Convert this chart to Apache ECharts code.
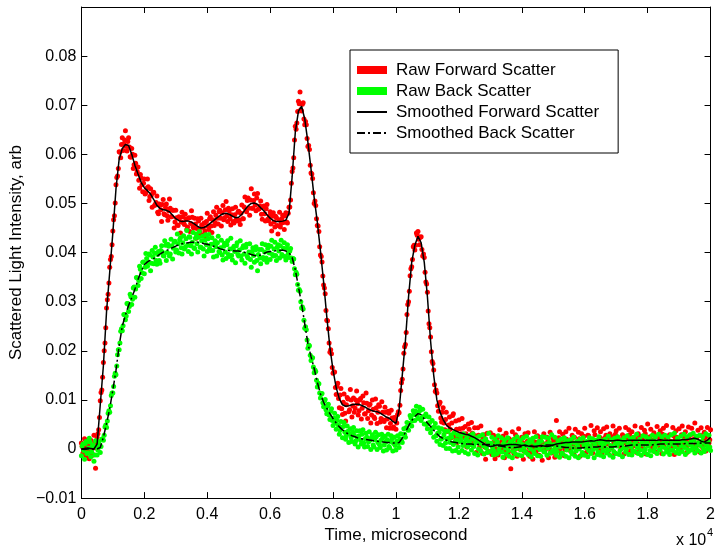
<!DOCTYPE html>
<html><head><meta charset="utf-8">
<script src="https://cdn.jsdelivr.net/npm/echarts@6/dist/echarts.min.js"></script>
<style>html,body{margin:0;padding:0;background:#fff}#c{width:718px;height:549px}</style>
</head><body><div id="c"></div>
<script>
// raw samples are interleaved: set A at 0,50,100,... us and set B at 25,75,125,... us
const RAW_STEP_US = 50;
const RAW_B_OFFSET_US = 25;
const SMOOTH_STEP_US = 100;

const seriesNames = ['Raw Forward Scatter','Raw Back Scatter','Smoothed Forward Scatter','Smoothed Back Scatter'];
const xTickLabels = ['0','0.2','0.4','0.6','0.8','1','1.2','1.4','1.6','1.8','2'];
const yTickLabels = ['\u22120.01','0','0.01','0.02','0.03','0.04','0.05','0.06','0.07','0.08',''];

const rawForwardA = [
0.0012,-0.0008,0.0021,-0.0014,0.0007,-0.0020,0.0018,-0.0010,0.0028,-0.0039,
0.0024,0.0039,0.0098,0.0120,0.0176,0.0216,0.0287,0.0315,0.0370,0.0392,
0.0444,0.0475,0.0538,0.0556,0.0605,0.0593,0.0634,0.0621,0.0648,0.0607,
0.0634,0.0595,0.0612,0.0571,0.0598,0.0560,0.0574,0.0531,0.0552,0.0524,
0.0550,0.0522,0.0550,0.0506,0.0530,0.0492,0.0523,0.0498,0.0515,0.0479,
0.0497,0.0463,0.0508,0.0477,0.0499,0.0466,0.0509,0.0473,0.0486,0.0450,
0.0486,0.0456,0.0473,0.0440,0.0482,0.0460,0.0478,0.0447,0.0470,0.0443,
0.0485,0.0452,0.0470,0.0429,0.0469,0.0446,0.0470,0.0435,0.0460,0.0434,
0.0480,0.0447,0.0473,0.0441,0.0483,0.0461,0.0492,0.0458,0.0486,0.0454,
0.0496,0.0471,0.0504,0.0463,0.0485,0.0456,0.0489,0.0460,0.0492,0.0464,
0.0484,0.0457,0.0497,0.0469,0.0513,0.0483,0.0511,0.0476,0.0530,0.0490,
0.0519,0.0485,0.0520,0.0489,0.0505,0.0468,0.0495,0.0464,0.0498,0.0465,
0.0483,0.0444,0.0481,0.0452,0.0471,0.0438,0.0482,0.0459,0.0476,0.0447,
0.0481,0.0460,0.0492,0.0507,0.0565,0.0593,0.0657,0.0664,0.0708,0.0727,
0.0688,0.0705,0.0660,0.0660,0.0616,0.0610,0.0562,0.0551,0.0500,0.0496,
0.0455,0.0443,0.0395,0.0381,0.0334,0.0316,0.0262,0.0245,0.0197,0.0194,
0.0154,0.0157,0.0111,0.0134,0.0084,0.0123,0.0070,0.0112,0.0057,0.0105,
0.0076,0.0121,0.0065,0.0104,0.0083,0.0118,0.0069,0.0100,0.0061,0.0108,
0.0071,0.0114,0.0062,0.0089,0.0053,0.0100,0.0065,0.0102,0.0052,0.0090,
0.0055,0.0096,0.0059,0.0085,0.0043,0.0077,0.0042,0.0079,0.0042,0.0064,
0.0040,0.0070,0.0074,0.0119,0.0142,0.0195,0.0213,0.0274,0.0300,0.0353,
0.0371,0.0412,0.0405,0.0440,0.0443,0.0416,0.0432,0.0393,0.0390,0.0340,
0.0319,0.0255,0.0228,0.0178,0.0161,0.0117,0.0114,0.0077,0.0095,0.0055,
0.0084,0.0039,0.0075,0.0036,0.0065,0.0023,0.0068,0.0024,0.0057,0.0013,
0.0059,0.0021,0.0062,0.0011,0.0046,0.0004,0.0051,0.0018,0.0054,0.0007,
0.0043,-0.0007,0.0043,0.0002,0.0047,-0.0009,0.0029,-0.0021,0.0032,-0.0006,
0.0033,-0.0011,0.0028,-0.0020,0.0022,-0.0012,0.0039,-0.0001,0.0026,-0.0018,
0.0032,-0.0006,0.0021,-0.0040,0.0035,-0.0009,0.0029,-0.0015,0.0041,0.0000,
0.0024,-0.0021,0.0031,-0.0006,0.0033,-0.0015,0.0016,-0.0021,0.0035,-0.0005,
0.0027,-0.0013,0.0023,-0.0023,0.0031,-0.0001,0.0024,-0.0018,0.0034,-0.0008,
0.0021,-0.0017,0.0058,-0.0002,0.0035,-0.0008,0.0030,-0.0014,0.0035,0.0004,
0.0042,-0.0004,0.0028,-0.0010,0.0040,0.0001,0.0034,-0.0015,0.0031,0.0007,
0.0042,-0.0007,0.0028,-0.0001,0.0048,-0.0008,0.0037,0.0006,0.0043,-0.0002,
0.0035,-0.0010,0.0041,0.0012,0.0045,-0.0004,0.0031,0.0002,0.0047,-0.0009,
0.0037,0.0009,0.0042,0.0000,0.0029,-0.0010,0.0044,0.0005,0.0039,-0.0004,
0.0035,0.0010,0.0047,-0.0007,0.0031,-0.0001,0.0044,0.0004,0.0038,-0.0010,
0.0051,0.0011,0.0040,-0.0002,0.0033,-0.0006,0.0046,0.0007,0.0037,-0.0009,
0.0042,0.0013,0.0048,-0.0003,0.0029,0.0002,0.0044,-0.0011,0.0037,0.0008,
0.0041,-0.0001,0.0047,0.0006,0.0035,-0.0007,0.0045,0.0012,0.0042,-0.0001,
0.0053,0.0006,0.0038,-0.0006,0.0043,0.0003,0.0034,-0.0004,0.0044,0.0012,
0.0039
];

const rawForwardB = [
0.0005,-0.0010,0.0004,0.0016,-0.0002,0.0011,-0.0014,0.0002,0.0012,0.0002,
0.0031,0.0064,0.0115,0.0146,0.0200,0.0247,0.0304,0.0338,0.0386,0.0416,
0.0467,0.0501,0.0553,0.0571,0.0604,0.0620,0.0608,0.0629,0.0616,0.0626,
0.0615,0.0594,0.0600,0.0579,0.0582,0.0565,0.0547,0.0559,0.0538,0.0541,
0.0519,0.0531,0.0534,0.0514,0.0517,0.0522,0.0496,0.0502,0.0482,0.0499,
0.0487,0.0498,0.0479,0.0491,0.0475,0.0485,0.0490,0.0473,0.0486,0.0462,
0.0471,0.0455,0.0471,0.0462,0.0473,0.0457,0.0468,0.0452,0.0471,0.0459,
0.0472,0.0450,0.0458,0.0449,0.0464,0.0440,0.0456,0.0451,0.0444,0.0463,
0.0454,0.0469,0.0454,0.0467,0.0455,0.0476,0.0470,0.0483,0.0470,0.0481,
0.0467,0.0487,0.0475,0.0490,0.0469,0.0477,0.0463,0.0477,0.0468,0.0482,
0.0466,0.0480,0.0469,0.0493,0.0487,0.0506,0.0490,0.0507,0.0490,0.0506,
0.0497,0.0511,0.0488,0.0495,0.0478,0.0493,0.0479,0.0489,0.0468,0.0475,
0.0458,0.0474,0.0462,0.0474,0.0455,0.0467,0.0452,0.0469,0.0461,0.0475,
0.0462,0.0480,0.0493,0.0541,0.0572,0.0629,0.0651,0.0687,0.0703,0.0691,
0.0702,0.0672,0.0667,0.0632,0.0618,0.0578,0.0560,0.0522,0.0505,0.0469,
0.0454,0.0412,0.0392,0.0352,0.0328,0.0282,0.0261,0.0216,0.0202,0.0166,
0.0157,0.0125,0.0128,0.0103,0.0110,0.0082,0.0095,0.0073,0.0090,0.0102,
0.0080,0.0100,0.0088,0.0075,0.0100,0.0092,0.0078,0.0103,0.0083,0.0094,
0.0072,0.0093,0.0078,0.0091,0.0069,0.0081,0.0062,0.0084,0.0075,0.0087,
0.0062,0.0075,0.0056,0.0075,0.0061,0.0073,0.0052,0.0063,0.0045,0.0060,
0.0053,0.0076,0.0089,0.0135,0.0163,0.0208,0.0237,0.0294,0.0321,0.0367,
0.0386,0.0415,0.0415,0.0435,0.0427,0.0431,0.0406,0.0397,0.0360,0.0336,
0.0281,0.0247,0.0198,0.0174,0.0131,0.0120,0.0088,0.0091,0.0063,0.0075,
0.0053,0.0060,0.0036,0.0049,0.0040,0.0053,0.0072,0.0028,0.0040,0.0022,
0.0041,0.0031,0.0042,0.0023,0.0031,0.0019,0.0040,0.0023,0.0032,0.0012,
0.0027,0.0017,0.0028,0.0007,0.0017,0.0024,0.0004,0.0016,-0.0005,0.0011,
0.0009,-0.0002,0.0015,0.0001,-0.0005,0.0012,0.0004,0.0018,-0.0003,0.0008,
0.0014,-0.0006,0.0005,0.0017,0.0002,-0.0001,0.0011,0.0019,0.0000,0.0006,
0.0013,-0.0004,0.0009,0.0016,0.0003,-0.0007,0.0010,0.0001,0.0014,-0.0002,
0.0007,0.0017,0.0000,0.0011,-0.0005,0.0006,0.0015,0.0002,-0.0003,0.0012,
0.0018,0.0004,0.0010,0.0023,0.0001,0.0016,0.0008,-0.0001,0.0020,0.0012,
0.0003,0.0019,0.0009,0.0024,0.0002,0.0014,0.0021,0.0006,0.0017,0.0026,
0.0008,0.0013,0.0027,0.0005,0.0020,0.0011,0.0029,0.0015,0.0007,0.0024,
0.0018,0.0003,0.0022,0.0028,0.0010,0.0019,0.0006,0.0025,0.0014,0.0030,
0.0009,0.0021,0.0017,0.0004,0.0026,0.0012,0.0023,0.0008,0.0029,0.0016,
0.0005,0.0024,0.0019,0.0011,0.0027,0.0007,0.0022,0.0015,0.0031,0.0010,
0.0020,0.0025,0.0006,0.0018,0.0028,0.0013,0.0009,0.0023,0.0017,0.0030,
0.0004,0.0021,0.0026,0.0012,0.0016,0.0008,0.0027,0.0019,0.0024,0.0005,
0.0014,0.0029,0.0011,0.0022,0.0018,0.0007,0.0026,0.0015,0.0030,0.0020,
0.0009,0.0025,0.0013,0.0028,0.0006,0.0017,0.0023,0.0012,0.0027,0.0019
];

const rawBackA = [
-0.0014,0.0010,-0.0021,0.0015,-0.0008,0.0022,-0.0016,0.0006,-0.0025,0.0017,
-0.0012,0.0015,-0.0007,0.0020,0.0018,0.0045,0.0044,0.0073,0.0075,0.0109,
0.0114,0.0148,0.0151,0.0192,0.0202,0.0240,0.0241,0.0274,0.0263,0.0296,
0.0280,0.0315,0.0294,0.0328,0.0309,0.0349,0.0333,0.0372,0.0347,0.0380,
0.0357,0.0398,0.0372,0.0397,0.0363,0.0404,0.0377,0.0411,0.0376,0.0402,
0.0378,0.0414,0.0394,0.0424,0.0384,0.0417,0.0393,0.0427,0.0387,0.0421,
0.0401,0.0438,0.0399,0.0430,0.0397,0.0434,0.0411,0.0445,0.0402,0.0431,
0.0397,0.0441,0.0408,0.0438,0.0401,0.0443,0.0411,0.0433,0.0393,0.0436,
0.0402,0.0437,0.0404,0.0430,0.0391,0.0424,0.0393,0.0433,0.0400,0.0425,
0.0385,0.0419,0.0388,0.0424,0.0392,0.0429,0.0385,0.0413,0.0379,0.0420,
0.0393,0.0424,0.0385,0.0414,0.0378,0.0417,0.0389,0.0418,0.0370,0.0410,
0.0380,0.0412,0.0363,0.0406,0.0377,0.0418,0.0386,0.0416,0.0380,0.0415,
0.0386,0.0425,0.0393,0.0421,0.0384,0.0416,0.0389,0.0425,0.0393,0.0420,
0.0385,0.0416,0.0390,0.0408,0.0382,0.0387,0.0355,0.0356,0.0323,0.0321,
0.0287,0.0285,0.0246,0.0243,0.0205,0.0210,0.0180,0.0186,0.0155,0.0158,
0.0126,0.0133,0.0104,0.0113,0.0086,0.0101,0.0072,0.0091,0.0060,0.0082,
0.0048,0.0073,0.0040,0.0066,0.0030,0.0056,0.0023,0.0054,0.0020,0.0047,
0.0013,0.0041,0.0015,0.0044,0.0010,0.0037,0.0004,0.0037,0.0010,0.0039,
0.0004,0.0032,0.0005,0.0035,-0.0001,0.0029,0.0004,0.0034,-0.0001,0.0029,
0.0003,0.0030,-0.0004,0.0026,-0.0002,0.0030,0.0002,0.0027,-0.0004,0.0024,
-0.0002,0.0027,0.0003,0.0031,0.0013,0.0041,0.0024,0.0054,0.0038,0.0068,
0.0047,0.0078,0.0058,0.0087,0.0062,0.0085,0.0058,0.0081,0.0051,0.0071,
0.0041,0.0065,0.0033,0.0058,0.0024,0.0052,0.0016,0.0043,0.0009,0.0041,
0.0007,0.0036,0.0001,0.0036,0.0001,0.0029,-0.0004,0.0033,-0.0003,0.0029,
-0.0007,0.0026,-0.0003,0.0031,-0.0007,0.0023,-0.0010,0.0028,-0.0002,0.0031,
-0.0009,0.0023,-0.0012,0.0026,-0.0004,0.0029,-0.0010,0.0021,-0.0007,0.0032,
-0.0005,0.0024,-0.0012,0.0020,-0.0010,0.0027,-0.0006,0.0023,-0.0017,0.0019,
-0.0010,0.0023,-0.0015,0.0015,-0.0018,0.0020,-0.0010,0.0025,-0.0012,0.0018,
-0.0014,0.0023,-0.0005,0.0026,-0.0011,0.0019,-0.0016,0.0022,-0.0009,0.0025,
-0.0014,0.0016,-0.0015,0.0025,-0.0005,0.0024,-0.0013,0.0022,-0.0008,0.0029,
-0.0006,0.0024,-0.0013,0.0017,-0.0017,0.0020,-0.0010,0.0023,-0.0015,0.0017,
-0.0018,0.0019,-0.0010,0.0024,-0.0015,0.0015,-0.0018,0.0020,-0.0012,0.0023,
-0.0013,0.0015,-0.0016,0.0023,-0.0009,0.0021,-0.0018,0.0018,-0.0011,0.0025,
-0.0013,0.0017,-0.0016,0.0020,-0.0008,0.0026,-0.0013,0.0019,-0.0017,0.0022,
-0.0009,0.0025,-0.0011,0.0018,-0.0016,0.0023,-0.0006,0.0027,-0.0011,0.0021,
-0.0012,0.0024,-0.0005,0.0030,-0.0009,0.0020,-0.0013,0.0027,-0.0007,0.0025,
-0.0011,0.0021,-0.0014,0.0028,-0.0005,0.0025,-0.0009,0.0030,-0.0002,0.0025,
-0.0010,0.0028,-0.0006,0.0024,-0.0011,0.0029,-0.0003,0.0032,-0.0007,0.0022,
-0.0009,0.0026,-0.0005,0.0030,-0.0011,0.0025,-0.0005,0.0029,-0.0002,0.0032,
-0.0008,0.0026,-0.0003,0.0028,-0.0008,0.0025,-0.0005,0.0031,0.0000,0.0028,
-0.0003
];

const rawBackB = [
0.0006,-0.0003,0.0011,-0.0009,0.0002,0.0014,-0.0006,0.0008,-0.0012,0.0004,
-0.0002,0.0009,0.0005,0.0021,0.0028,0.0049,0.0057,0.0078,0.0088,0.0114,
0.0127,0.0154,0.0169,0.0202,0.0216,0.0245,0.0251,0.0274,0.0271,0.0296,
0.0290,0.0310,0.0305,0.0330,0.0326,0.0348,0.0343,0.0366,0.0359,0.0381,
0.0370,0.0388,0.0380,0.0395,0.0378,0.0391,0.0399,0.0384,0.0396,0.0384,
0.0404,0.0401,0.0393,0.0415,0.0400,0.0413,0.0397,0.0414,0.0409,0.0423,
0.0405,0.0418,0.0426,0.0410,0.0420,0.0407,0.0428,0.0415,0.0432,0.0414,
0.0421,0.0410,0.0429,0.0418,0.0431,0.0411,0.0424,0.0407,0.0425,0.0416,
0.0428,0.0408,0.0417,0.0404,0.0418,0.0412,0.0420,0.0402,0.0410,0.0395,
0.0413,0.0401,0.0416,0.0396,0.0407,0.0394,0.0409,0.0402,0.0414,0.0396,
0.0405,0.0393,0.0410,0.0397,0.0411,0.0392,0.0401,0.0386,0.0402,0.0394,
0.0405,0.0384,0.0396,0.0389,0.0406,0.0390,0.0401,0.0389,0.0409,0.0399,
0.0413,0.0396,0.0407,0.0394,0.0411,0.0403,0.0414,0.0396,0.0409,0.0392,
0.0408,0.0398,0.0403,0.0389,0.0388,0.0367,0.0360,0.0335,0.0325,0.0300,
0.0289,0.0262,0.0249,0.0222,0.0212,0.0191,0.0186,0.0167,0.0161,0.0140,
0.0134,0.0114,0.0112,0.0094,0.0097,0.0080,0.0087,0.0069,0.0077,0.0058,
0.0063,0.0053,0.0058,0.0048,0.0038,0.0044,0.0046,0.0034,0.0027,0.0036,
0.0031,0.0023,0.0034,0.0028,0.0017,0.0023,0.0027,0.0018,0.0030,0.0012,
0.0021,0.0024,0.0014,0.0018,0.0024,0.0008,0.0019,0.0025,0.0013,0.0009,
0.0018,0.0022,0.0008,0.0014,0.0019,0.0005,0.0015,0.0021,0.0011,0.0007,
0.0016,0.0012,0.0021,0.0017,0.0030,0.0030,0.0044,0.0039,0.0052,0.0063,
0.0057,0.0070,0.0077,0.0068,0.0076,0.0079,0.0064,0.0066,0.0066,0.0050,
0.0053,0.0054,0.0041,0.0044,0.0044,0.0027,0.0032,0.0034,0.0020,0.0022,
0.0029,0.0012,0.0021,0.0022,0.0013,0.0024,0.0009,0.0014,0.0019,0.0004,
0.0015,0.0019,0.0007,0.0012,0.0019,0.0004,0.0015,0.0009,0.0020,0.0005,
0.0012,0.0016,0.0000,0.0011,0.0015,0.0006,0.0019,0.0002,0.0013,0.0009,
0.0012,0.0003,-0.0004,0.0009,0.0014,0.0000,0.0006,-0.0006,0.0011,0.0002,
0.0008,-0.0003,0.0013,0.0005,-0.0005,0.0010,0.0001,0.0007,0.0015,-0.0002,
0.0009,0.0004,-0.0007,0.0012,0.0006,0.0000,0.0014,-0.0004,0.0008,0.0003,
0.0011,-0.0001,0.0016,0.0005,-0.0006,0.0010,0.0002,0.0013,0.0007,-0.0003,
0.0009,0.0001,-0.0005,0.0011,0.0004,-0.0008,0.0007,0.0013,-0.0002,0.0005,
0.0010,-0.0006,0.0002,0.0012,-0.0004,0.0006,0.0000,0.0014,-0.0007,0.0008,
0.0003,0.0011,-0.0003,0.0006,0.0015,-0.0001,0.0009,0.0002,-0.0006,0.0012,
0.0005,-0.0004,0.0010,0.0001,0.0014,-0.0002,0.0007,0.0004,-0.0005,0.0011,
0.0006,0.0013,-0.0003,0.0009,0.0002,0.0016,-0.0001,0.0008,0.0012,0.0004,
-0.0004,0.0010,0.0015,0.0003,0.0007,-0.0002,0.0013,0.0009,0.0000,0.0014,
0.0006,-0.0003,0.0011,0.0017,0.0002,0.0008,0.0013,-0.0001,0.0010,0.0005,
0.0016,0.0001,0.0012,0.0007,-0.0002,0.0014,0.0009,0.0004,0.0015,0.0000,
0.0011,0.0006,0.0017,0.0003,0.0012,-0.0001,0.0009,0.0014,0.0005,0.0018,
0.0002,0.0010,0.0013,0.0007,0.0016,0.0001,0.0011,0.0008,0.0015,0.0004
];

const smoothForward = [
0.0000,0.0001,0.0002,0.0001,0.0000,0.0010,0.0090,0.0170,0.0280,0.0360,
0.0440,0.0530,0.0590,0.0612,0.0620,0.0618,0.0600,0.0578,0.0560,0.0543,
0.0532,0.0526,0.0519,0.0508,0.0496,0.0490,0.0487,0.0486,0.0483,0.0476,
0.0469,0.0465,0.0463,0.0464,0.0464,0.0462,0.0458,0.0453,0.0450,0.0451,
0.0455,0.0460,0.0465,0.0470,0.0475,0.0479,0.0480,0.0478,0.0474,0.0471,
0.0472,0.0478,0.0487,0.0495,0.0500,0.0501,0.0498,0.0491,0.0485,0.0477,
0.0470,0.0465,0.0463,0.0463,0.0464,0.0466,0.0480,0.0555,0.0645,0.0688,
0.0698,0.0672,0.0625,0.0570,0.0512,0.0462,0.0403,0.0340,0.0270,0.0207,
0.0160,0.0125,0.0102,0.0090,0.0087,0.0088,0.0090,0.0091,0.0091,0.0089,
0.0086,0.0082,0.0079,0.0077,0.0076,0.0073,0.0069,0.0065,0.0062,0.0056,
0.0052,0.0080,0.0150,0.0220,0.0310,0.0380,0.0415,0.0433,0.0420,0.0380,
0.0310,0.0220,0.0150,0.0100,0.0075,0.0060,0.0049,0.0043,0.0040,0.0037,
0.0034,0.0032,0.0030,0.0029,0.0026,0.0023,0.0019,0.0015,0.0011,0.0007,
0.0005,0.0006,0.0008,0.0008,0.0007,0.0008,0.0009,0.0009,0.0009,0.0008,
0.0007,0.0008,0.0006,0.0005,0.0005,0.0006,0.0007,0.0006,0.0005,0.0006,
0.0008,0.0010,0.0011,0.0012,0.0013,0.0013,0.0014,0.0014,0.0014,0.0014,
0.0015,0.0016,0.0017,0.0016,0.0018,0.0019,0.0018,0.0017,0.0017,0.0017,
0.0018,0.0018,0.0017,0.0017,0.0018,0.0018,0.0018,0.0018,0.0018,0.0018,
0.0018,0.0018,0.0018,0.0018,0.0019,0.0018,0.0018,0.0018,0.0018,0.0018,
0.0018,0.0019,0.0019,0.0020,0.0021,0.0022,0.0020,0.0016,0.0014,0.0018,
0.0024
];

const smoothBack = [
0.0000,-0.0001,0.0000,0.0001,-0.0001,0.0000,0.0003,0.0024,0.0052,0.0082,
0.0120,0.0160,0.0210,0.0250,0.0273,0.0292,0.0308,0.0325,0.0345,0.0362,
0.0375,0.0381,0.0385,0.0388,0.0392,0.0397,0.0401,0.0404,0.0407,0.0410,
0.0413,0.0416,0.0418,0.0419,0.0420,0.0421,0.0421,0.0421,0.0420,0.0418,
0.0417,0.0415,0.0413,0.0411,0.0408,0.0406,0.0404,0.0404,0.0404,0.0403,
0.0403,0.0402,0.0400,0.0398,0.0396,0.0394,0.0393,0.0395,0.0398,0.0401,
0.0402,0.0403,0.0404,0.0404,0.0405,0.0403,0.0400,0.0390,0.0365,0.0330,
0.0295,0.0255,0.0215,0.0188,0.0164,0.0136,0.0112,0.0095,0.0083,0.0072,
0.0062,0.0053,0.0045,0.0039,0.0034,0.0030,0.0027,0.0025,0.0022,0.0021,
0.0020,0.0019,0.0018,0.0017,0.0016,0.0015,0.0014,0.0013,0.0013,0.0012,
0.0012,0.0013,0.0022,0.0034,0.0047,0.0058,0.0066,0.0072,0.0070,0.0061,
0.0053,0.0046,0.0038,0.0031,0.0025,0.0021,0.0018,0.0016,0.0014,0.0013,
0.0012,0.0011,0.0010,0.0010,0.0010,0.0009,0.0009,0.0009,0.0009,0.0009,
0.0009,0.0008,0.0007,0.0006,0.0005,0.0004,0.0003,0.0003,0.0003,0.0004,
0.0005,0.0006,0.0006,0.0006,0.0005,0.0004,0.0005,0.0007,0.0008,0.0008,
0.0007,0.0006,0.0005,0.0004,0.0003,0.0003,0.0002,0.0002,0.0002,0.0002,
0.0003,0.0003,0.0004,0.0004,0.0004,0.0005,0.0004,0.0004,0.0004,0.0004,
0.0005,0.0005,0.0006,0.0006,0.0007,0.0008,0.0008,0.0008,0.0008,0.0008,
0.0008,0.0008,0.0009,0.0009,0.0010,0.0010,0.0010,0.0010,0.0010,0.0010,
0.0010,0.0010,0.0011,0.0011,0.0011,0.0011,0.0011,0.0012,0.0012,0.0012,
0.0012
];

const FONT = "'Liberation Sans', Arial, Helvetica, sans-serif";
const withTime = (arr, step, offset) => arr.map((v, i) => [offset + i * step, v]);

const X_MIN = 0, X_MAX = 20000, X_INT = 2000;
const Y_MIN = -0.01, Y_MAX = 0.09, Y_INT = 0.01;

const xLabelFmt = v => xTickLabels[Math.round((v - X_MIN) / X_INT)] ?? '';
const yLabelFmt = v => yTickLabels[Math.round((v - Y_MIN) / Y_INT)] ?? '';

const axisLineStyle = { show: true, onZero: false, lineStyle: { color: '#000', width: 1 } };
const tickStyle = { show: true, inside: true, length: 6, lineStyle: { color: '#000', width: 1 } };

const chart = echarts.init(document.getElementById('c'), null, { renderer: 'canvas' });
chart.setOption({
  animation: false,
  backgroundColor: '#fff',
  grid: { left: 78, right: 4, top: 7, bottom: 49, containLabel: false },
  xAxis: [
    {
      type: 'value', min: X_MIN, max: X_MAX, interval: X_INT, position: 'bottom',
      axisLine: axisLineStyle, axisTick: tickStyle, splitLine: { show: false },
      axisLabel: { color: '#000', fontSize: 16, fontFamily: FONT, margin: 8, formatter: xLabelFmt },
      name: 'Time, microsecond', nameLocation: 'middle', nameGap: 24,
      nameTextStyle: { color: '#000', fontSize: 17, fontFamily: FONT }
    },
    {
      type: 'value', min: X_MIN, max: X_MAX, interval: X_INT, position: 'top',
      axisLine: axisLineStyle, axisTick: tickStyle, splitLine: { show: false },
      axisLabel: { show: false }
    }
  ],
  yAxis: [
    {
      type: 'value', min: Y_MIN, max: Y_MAX, interval: Y_INT, position: 'left',
      axisLine: axisLineStyle, axisTick: tickStyle, splitLine: { show: false },
      axisLabel: { color: '#000', fontSize: 16, fontFamily: FONT, margin: 5, formatter: yLabelFmt },
      name: 'Scattered Light Intensity, arb', nameLocation: 'middle', nameGap: 50, nameRotate: 90,
      nameTextStyle: { color: '#000', fontSize: 17, fontFamily: FONT }
    },
    {
      type: 'value', min: Y_MIN, max: Y_MAX, interval: Y_INT, position: 'right',
      axisLine: axisLineStyle, axisTick: tickStyle, splitLine: { show: false },
      axisLabel: { show: false }
    }
  ],
  legend: {
    orient: 'vertical', left: 350, top: 50,
    padding: [10, 19, 10, 6], itemGap: 1, itemWidth: 30, itemHeight: 8,
    backgroundColor: '#fff', borderColor: '#000', borderWidth: 1,
    textStyle: { color: '#000', fontSize: 17, fontFamily: FONT, lineHeight: 20, padding: [0, 0, 0, 4] },
    data: [
      { name: seriesNames[0], icon: 'rect', itemStyle: { opacity: 1 } },
      { name: seriesNames[1], icon: 'rect', itemStyle: { opacity: 1 } },
      { name: seriesNames[2], itemStyle: { opacity: 0 } },
      { name: seriesNames[3], itemStyle: { opacity: 0 } }
    ]
  },
  series: [
    {
      name: seriesNames[0], type: 'scatter',
      data: withTime(rawForwardA, RAW_STEP_US, 0).concat(withTime(rawForwardB, RAW_STEP_US, RAW_B_OFFSET_US)),
      symbol: 'circle', symbolSize: 5, itemStyle: { color: '#ff0000', opacity: 1 }, silent: true, z: 2
    },
    {
      name: seriesNames[1], type: 'scatter',
      data: withTime(rawBackA, RAW_STEP_US, 0).concat(withTime(rawBackB, RAW_STEP_US, RAW_B_OFFSET_US)),
      symbol: 'circle', symbolSize: 5, itemStyle: { color: '#00ff00', opacity: 1 }, silent: true, z: 3
    },
    {
      name: seriesNames[2], type: 'line', data: withTime(smoothForward, SMOOTH_STEP_US, 0),
      symbol: 'none', itemStyle: { color: '#000' }, lineStyle: { color: '#000', width: 1.5 }, silent: true, z: 4
    },
    {
      name: seriesNames[3], type: 'line', data: withTime(smoothBack, SMOOTH_STEP_US, 0),
      symbol: 'none', itemStyle: { color: '#000' }, lineStyle: { color: '#000', width: 1.5, type: [8, 3, 2, 3] }, silent: true, z: 4
    }
  ],
  graphic: [
    { type: 'text', left: 676, top: 533, style: { text: 'x 10', font: '16px ' + FONT, fill: '#000' } },
    { type: 'text', left: 707, top: 527, style: { text: '4', font: '11px ' + FONT, fill: '#000' } }
  ]
});
</script>
</body></html>
